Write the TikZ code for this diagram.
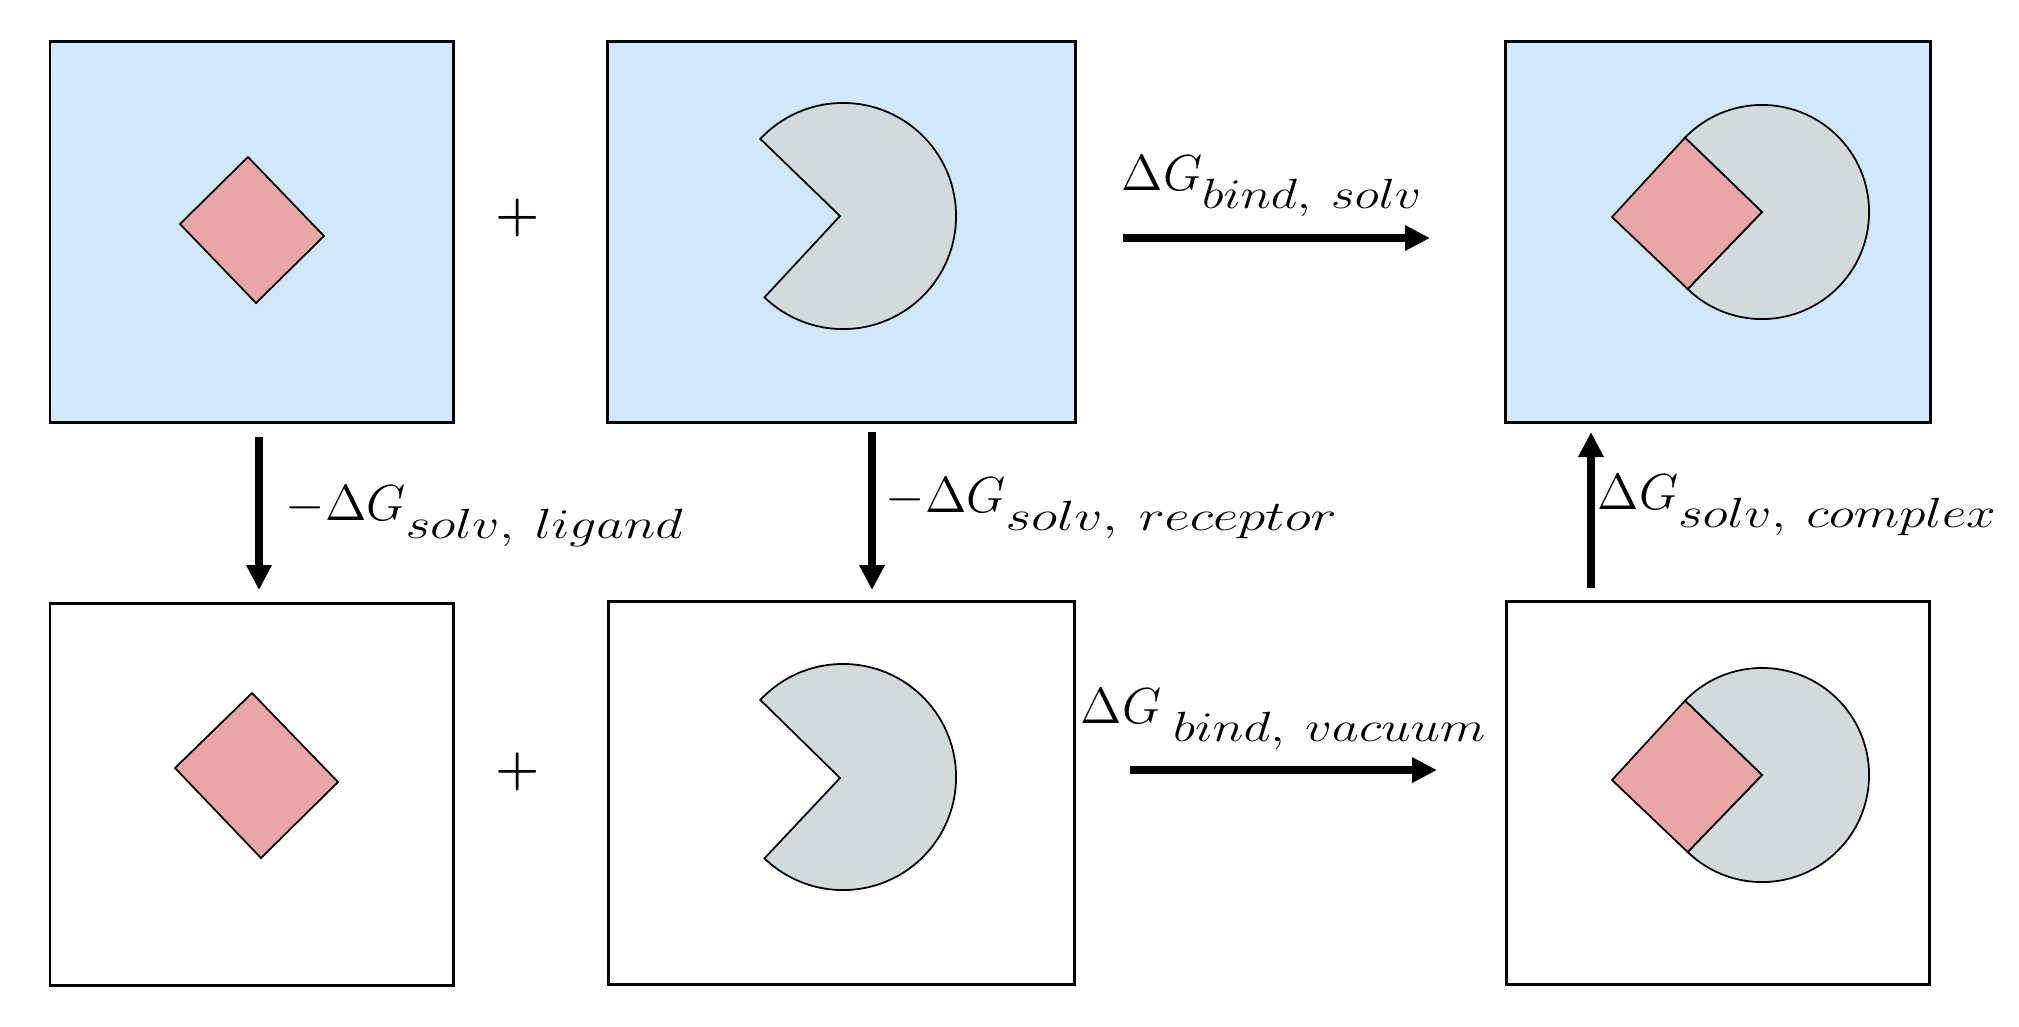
\documentclass[tikz,border=0pt]{standalone}
\usepackage{graphicx}
\usetikzlibrary{arrows.meta,calc}
\definecolor{water}{RGB}{208,232,250}
\definecolor{lig}{RGB}{234,166,164}
\definecolor{rec}{RGB}{209,218,220}
\newcommand{\lowsub}[2][1.2]{\raisebox{-0.18cm}{\scalebox{#1}[1]{\fontsize{12.5}{15}\selectfont$#2$}}}
\begin{document}
\begin{tikzpicture}[x=0.01cm,y=-0.01cm,
  box/.style={draw=black,line width=0.85pt,inner sep=0pt,outer sep=0pt,anchor=north west},
  wet/.style={box,fill=water},
  dry/.style={box,fill=white},
  ligand/.style={draw=black,line width=0.5pt,fill=lig,line join=miter},
  receptor/.style={draw=black,line width=0.5pt,fill=rec,line join=miter},
  flow/.style={line width=2.3pt,-{Triangle[length=0.25cm,width=0.24cm]}},
  lab/.style={anchor=base west,inner sep=0pt,font=\fontsize{15}{18}\selectfont},
  plus/.style={inner sep=0pt,font=\fontsize{15}{18}\selectfont\boldmath}]
\useasboundingbox (0,0) rectangle (2019,1026);

% boxes
\node[wet,minimum width=4.03cm,minimum height=3.81cm] (b1) at (50,41) {};
\node[wet,minimum width=4.68cm,minimum height=3.81cm] (b2) at (607,41) {};
\node[wet,minimum width=4.25cm,minimum height=3.81cm] (b3) at (1505,41) {};
\node[dry,minimum width=4.03cm,minimum height=3.82cm] (b4) at (50,603) {};
\node[dry,minimum width=4.66cm,minimum height=3.83cm] (b5) at (608,601) {};
\node[dry,minimum width=4.23cm,minimum height=3.83cm] (b6) at (1506,601) {};

% plus signs
\node[plus] (p1) at (518,218) {$+$};
\node[plus] (p2) at (518,772) {$+$};

% free ligands
\draw[ligand] (248,157) -- (324,236) -- (256,303) -- (180,224) -- cycle;
\draw[ligand] (252,693) -- (338,782) -- (261,858) -- (175,768) -- cycle;

% free receptors
\coordinate (rc1) at (843,216);
\coordinate (rv1) at (840,216);
\draw[receptor] (rv1) -- ([shift={(137:1.13cm)}]rc1) arc[start angle=137,end angle=-134,radius=1.13cm] -- cycle;
\coordinate (rc2) at (843,777);
\coordinate (rv2) at (840,778);
\draw[receptor] (rv2) -- ([shift={(137:1.13cm)}]rc2) arc[start angle=137,end angle=-134,radius=1.13cm] -- cycle;

% complexes
\coordinate (cc1) at (1762,212);
\coordinate (ct1) at ([shift={(136:1.07cm)}]cc1);
\coordinate (cb1) at ([shift={(-134:1.07cm)}]cc1);
\draw[receptor] (cc1) -- (ct1) arc[start angle=136,end angle=-134,radius=1.07cm] -- cycle;
\draw[ligand] (1612,217) -- (ct1) -- (cc1) -- (cb1) -- cycle;
\coordinate (cc2) at (1762,775);
\coordinate (ct2) at ([shift={(136:1.07cm)}]cc2);
\coordinate (cb2) at ([shift={(-134:1.07cm)}]cc2);
\draw[receptor] (cc2) -- (ct2) arc[start angle=136,end angle=-134,radius=1.07cm] -- cycle;
\draw[ligand] (1612,780) -- (ct2) -- (cc2) -- (cb2) -- cycle;

% arrows
\coordinate (h1s) at (1123,238); \coordinate (h1e) at (1430,238);
\coordinate (h2s) at (1130,770); \coordinate (h2e) at (1437,770);
\coordinate (v1s) at (259,437);  \coordinate (v1e) at (259,590);
\coordinate (v2s) at (872,432);  \coordinate (v2e) at (872,590);
\coordinate (v3s) at (1591,588); \coordinate (v3e) at (1591,432);
\draw[flow] (h1s) -- (h1e);
\draw[flow] (h2s) -- (h2e);
\draw[flow] (v1s) -- (v1e);
\draw[flow] (v2s) -- (v2e);
\draw[flow] (v3s) -- (v3e);

% labels
\node[lab] (l1) at (1121,190) {$\Delta G$\lowsub[1.22]{bind,\:solv}};
\node[lab] (l2) at (1080,723) {$\Delta G$\hspace{0.12cm}\lowsub[1.25]{bind,\:vacuum}};
\node[lab] (l3) at (285,520) {$-\Delta G$\lowsub[1.27]{solv,\:ligand}};
\node[lab] (l4) at (885,512) {$-\Delta G$\lowsub[1.31]{solv,\:receptor}};
\node[lab] (l5) at (1597,509) {$\Delta G$\lowsub[1.26]{solv,\:complex}};
\end{tikzpicture}
\end{document}
